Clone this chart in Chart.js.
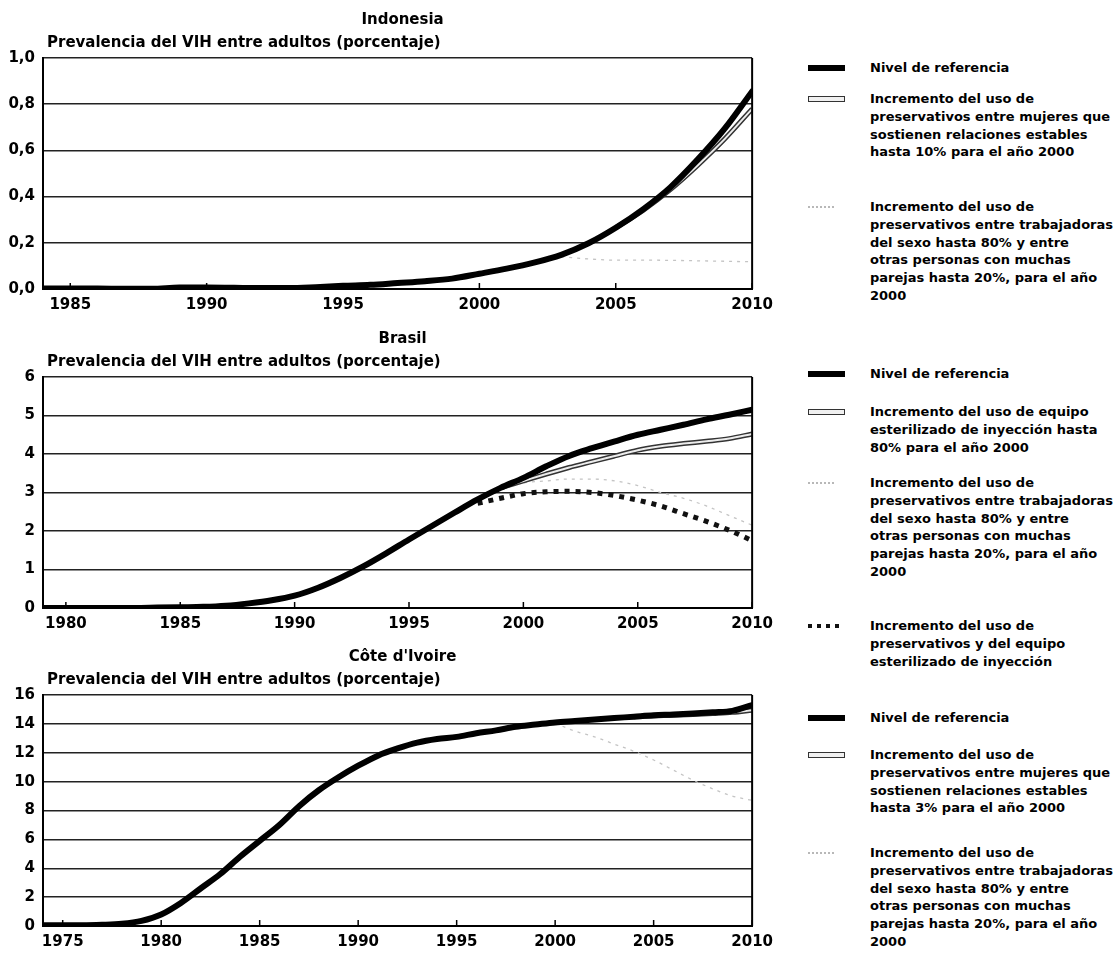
<!DOCTYPE html>
<html lang="es">
<head>
<meta charset="utf-8">
<script src="https://cdn.jsdelivr.net/npm/chart.js@4.4.1/dist/chart.umd.min.js"></script>
<style>
  body { margin: 0; background: #fff; width: 1119px; height: 956px; position: relative; overflow: hidden; font-family: 'DejaVu Sans', sans-serif; }
  canvas { position: absolute; left: 0; }
  .leg { position: absolute; left: 870px; font-weight: bold; font-size: 13px; line-height: 17.8px; color: #000; white-space: nowrap; }
  .sw { position: absolute; left: 808px; width: 37px; box-sizing: border-box; }
</style>
</head>
<body>
<canvas id="cIndo" width="780" height="319" style="top:0"></canvas>
<canvas id="cBra" width="780" height="319" style="top:319px"></canvas>
<canvas id="cCiv" width="780" height="319" style="top:637px"></canvas>
<div id="legends"></div>
<script>
// ---- data ----
const yTitle = 'Prevalencia del VIH entre adultos (porcentaje)';

// Indonesia
const indoYears = [1984, 1985, 1986, 1987, 1988, 1989, 1990, 1991, 1992, 1993, 1994, 1995, 1996, 1997,
  1998, 1999, 2000, 2001, 2002, 2003, 2004, 2005, 2006, 2007, 2008, 2009, 2010];
const indoBase = [0.002, 0.002, 0.002, 0.001, 0.001, 0.006, 0.006, 0.005, 0.004, 0.004, 0.008, 0.014, 0.018, 0.026,
  0.034, 0.045, 0.066, 0.088, 0.114, 0.148, 0.198, 0.265, 0.345, 0.44, 0.56, 0.695, 0.855];
const indoWomen = [null, null, null, null, null, null, null, null, null, null, null, null, null, null,
  null, null, null, null, null, null, null, 0.265, 0.34, 0.43, 0.535, 0.65, 0.78];
const indoSexWork = [null, null, null, null, null, null, null, null, null, null, null, null, null, null,
  null, null, null, null, null, 0.14, 0.13, 0.125, 0.125, 0.124, 0.122, 0.12, 0.118];
const indoLegend = [
  ['Nivel de referencia'],
  ['Incremento del uso de', 'preservativos entre mujeres que', 'sostienen relaciones estables', 'hasta 10% para el año 2000'],
  ['Incremento del uso de', 'preservativos entre trabajadoras', 'del sexo hasta 80% y entre', 'otras personas con muchas', 'parejas hasta 20%, para el año', '2000']
];

// Brasil
const braYears = [1979, 1980, 1981, 1982, 1983, 1984, 1985, 1986, 1987, 1988, 1989, 1990, 1991, 1992, 1993, 1994,
  1995, 1996, 1997, 1998, 1999, 2000, 2001, 2002, 2003, 2004, 2005, 2006, 2007, 2008, 2009, 2010];
const braBase = [0, 0, 0, 0, 0, 0.01, 0.02, 0.03, 0.06, 0.12, 0.2, 0.32, 0.52, 0.78, 1.08, 1.42,
  1.78, 2.13, 2.48, 2.82, 3.12, 3.38, 3.68, 3.95, 4.15, 4.33, 4.5, 4.63, 4.76, 4.9, 5.02, 5.15];
const braInject = [null, null, null, null, null, null, null, null, null, null, null, null, null, null, null, null,
  null, null, null, null, 3.12, 3.3, 3.48, 3.65, 3.8, 3.95, 4.1, 4.2, 4.27, 4.33, 4.4, 4.52];
const braSexWork = [null, null, null, null, null, null, null, null, null, null, null, null, null, null, null, null,
  null, null, null, null, 3.12, 3.25, 3.3, 3.35, 3.35, 3.3, 3.18, 3.0, 2.85, 2.65, 2.4, 2.15];
const braBoth = [null, null, null, null, null, null, null, null, null, null, null, null, null, null, null, null,
  null, null, null, 2.72, 2.85, 2.97, 3.02, 3.03, 3.0, 2.92, 2.8, 2.65, 2.45, 2.25, 2.02, 1.75];
const braLegend = [
  ['Nivel de referencia'],
  ['Incremento del uso de equipo', 'esterilizado de inyección hasta', '80% para el año 2000'],
  ['Incremento del uso de', 'preservativos entre trabajadoras', 'del sexo hasta 80% y entre', 'otras personas con muchas', 'parejas hasta 20%, para el año', '2000'],
  ['Incremento del uso de', 'preservativos y del equipo', 'esterilizado de inyección']
];

// Côte d'Ivoire
const civYears = [1974, 1975, 1976, 1977, 1978, 1979, 1980, 1981, 1982, 1983, 1984, 1985, 1986, 1987, 1988, 1989,
  1990, 1991, 1992, 1993, 1994, 1995, 1996, 1997, 1998, 1999, 2000, 2001, 2002, 2003, 2004, 2005, 2006, 2007,
  2008, 2009, 2010];
const civBase = [0.05, 0.05, 0.05, 0.08, 0.15, 0.35, 0.8, 1.6, 2.6, 3.6, 4.8, 5.9, 7.0, 8.3, 9.4, 10.3,
  11.1, 11.8, 12.3, 12.7, 12.95, 13.1, 13.35, 13.55, 13.8, 13.95, 14.1, 14.2, 14.3, 14.4, 14.5, 14.6, 14.65, 14.72,
  14.8, 14.9, 15.3];
const civWomen = [null, null, null, null, null, null, null, null, null, null, null, null, null, null, null, null,
  null, null, null, null, null, null, null, null, null, null, null, null, null, null, 14.5, 14.55, 14.6, 14.65,
  14.72, 14.8, 14.95];
const civSexWork = [null, null, null, null, null, null, null, null, null, null, null, null, null, null, null, null,
  null, null, null, null, null, null, null, null, null, null, 14.05, 13.5, 13.1, 12.6, 12.1, 11.5, 10.8, 10.1,
  9.5, 9.0, 8.7];
const civLegend = [
  ['Nivel de referencia'],
  ['Incremento del uso de', 'preservativos entre mujeres que', 'sostienen relaciones estables', 'hasta 3% para el año 2000'],
  ['Incremento del uso de', 'preservativos entre trabajadoras', 'del sexo hasta 80% y entre', 'otras personas con muchas', 'parejas hasta 20%, para el año', '2000']
];

// ---- drawing ----
const FONT = "'DejaVu Sans', sans-serif";

function pts(years, vals) {
  return years.map((x, i) => ({ x: x, y: vals[i] }));
}

function buildSets(years, base, hollow, faint, dotted) {
  const sets = [{ data: pts(years, base), borderColor: '#000', borderWidth: 6, borderCapStyle: 'round' }];
  if (dotted) sets.push({ data: pts(years, dotted), borderColor: '#111', borderWidth: 5, borderDash: [5, 6] });
  if (hollow) {
    sets.push({ data: pts(years, hollow), borderColor: '#ececec', borderWidth: 2 });
    sets.push({ data: pts(years, hollow), borderColor: '#333', borderWidth: 5 });
  }
  if (faint) sets.push({ data: pts(years, faint), borderColor: '#c4c4c4', borderWidth: 1.3, borderDash: [3, 5] });
  return sets;
}

// country name + axis caption above the plot, right edge and inner tick marks
const framePlugin = {
  id: 'frame',
  afterDraw(chart, args, opts) {
    const { ctx, chartArea: a } = chart;
    ctx.save();
    ctx.fillStyle = '#000';
    ctx.textBaseline = 'middle';
    ctx.font = 'bold 15px ' + FONT;
    ctx.textAlign = 'center';
    ctx.fillText(opts.country, (a.left + a.right) / 2 + 5, a.top - 38);
    ctx.textAlign = 'left';
    ctx.fillText(yTitle, a.left + 4, a.top - 15);

    ctx.strokeStyle = '#000';
    ctx.lineWidth = 2;
    ctx.beginPath();
    ctx.moveTo(a.right, a.top);
    ctx.lineTo(a.right, a.bottom);
    ctx.stroke();

    const xs = chart.scales.x;
    ctx.lineWidth = 1.5;
    xs.ticks.forEach(t => {
      const px = xs.getPixelForValue(t.value);
      ctx.beginPath();
      ctx.moveTo(px, a.bottom);
      ctx.lineTo(px, a.bottom - 6);
      ctx.stroke();
    });
    ctx.restore();
  }
};

function makeChart(id, country, years, sets, yMax, yStep, comma) {
  return new Chart(document.getElementById(id), {
    type: 'line',
    data: { datasets: sets },
    plugins: [framePlugin],
    options: {
      responsive: false,
      animation: false,
      devicePixelRatio: 1,
      layout: { padding: { top: 58, right: 23, left: 0, bottom: 0 } },
      elements: { point: { radius: 0 }, line: { cubicInterpolationMode: 'monotone' } },
      plugins: { legend: { display: false }, tooltip: { enabled: false }, frame: { country: country } },
      scales: {
        x: {
          type: 'linear',
          min: years[0],
          max: years[years.length - 1],
          afterFit: s => { s.height = 30; },
          grid: { display: true, drawOnChartArea: false, drawTicks: false },
          border: { display: true, color: '#000', width: 2 },
          ticks: {
            stepSize: 5, includeBounds: false, padding: 7, color: '#000',
            font: { family: FONT, size: 15, weight: 'bold' },
            callback: v => (v % 5 === 0 ? String(v) : '')
          }
        },
        y: {
          min: 0,
          max: yMax,
          afterFit: s => { s.width = 43; },
          grid: { color: '#222', lineWidth: 1.5, drawTicks: false },
          border: { display: true, color: '#000', width: 2 },
          ticks: {
            stepSize: yStep, padding: 8, color: '#000',
            font: { family: FONT, size: 15, weight: 'bold' },
            callback: v => (comma ? v.toFixed(1).replace('.', ',') : String(v))
          }
        }
      }
    }
  });
}

makeChart('cIndo', 'Indonesia', indoYears, buildSets(indoYears, indoBase, indoWomen, indoSexWork, null), 1, 0.2, true);
makeChart('cBra', 'Brasil', braYears, buildSets(braYears, braBase, braInject, braSexWork, braBoth), 6, 1, false);
makeChart('cCiv', "Côte d'Ivoire", civYears, buildSets(civYears, civBase, civWomen, civSexWork, null), 16, 2, false);

// ---- legends (HTML, right column) ----
const holder = document.getElementById('legends');
function swatch(kind, cy) {
  const d = document.createElement('div');
  d.className = 'sw';
  if (kind === 'base') {
    d.style.cssText = 'top:' + (cy - 3) + 'px;height:6px;background:#000;';
  } else if (kind === 'hollow') {
    d.style.cssText = 'top:' + (cy - 3) + 'px;height:6px;border:1.5px solid #333;background:#f0f0f0;';
  } else if (kind === 'faint') {
    d.style.cssText = 'top:' + (cy - 1) + 'px;height:2px;width:26px;border-top:2px dotted #b8b8b8;';
  } else {
    d.style.cssText = 'top:' + (cy - 2) + 'px;height:4px;width:31px;background:repeating-linear-gradient(90deg,#111 0 4px,transparent 4px 9px);';
  }
  holder.appendChild(d);
}
function legend(lines, kind, cy) {
  swatch(kind, cy);
  const d = document.createElement('div');
  d.className = 'leg';
  d.style.top = (cy - 9) + 'px';
  d.innerHTML = lines.join('<br>');
  holder.appendChild(d);
}
legend(indoLegend[0], 'base', 68);
legend(indoLegend[1], 'hollow', 99);
legend(indoLegend[2], 'faint', 207);
legend(braLegend[0], 'base', 374);
legend(braLegend[1], 'hollow', 412);
legend(braLegend[2], 'faint', 483);
legend(braLegend[3], 'dots', 626);
legend(civLegend[0], 'base', 718);
legend(civLegend[1], 'hollow', 755);
legend(civLegend[2], 'faint', 853);
</script>
</body>
</html>
